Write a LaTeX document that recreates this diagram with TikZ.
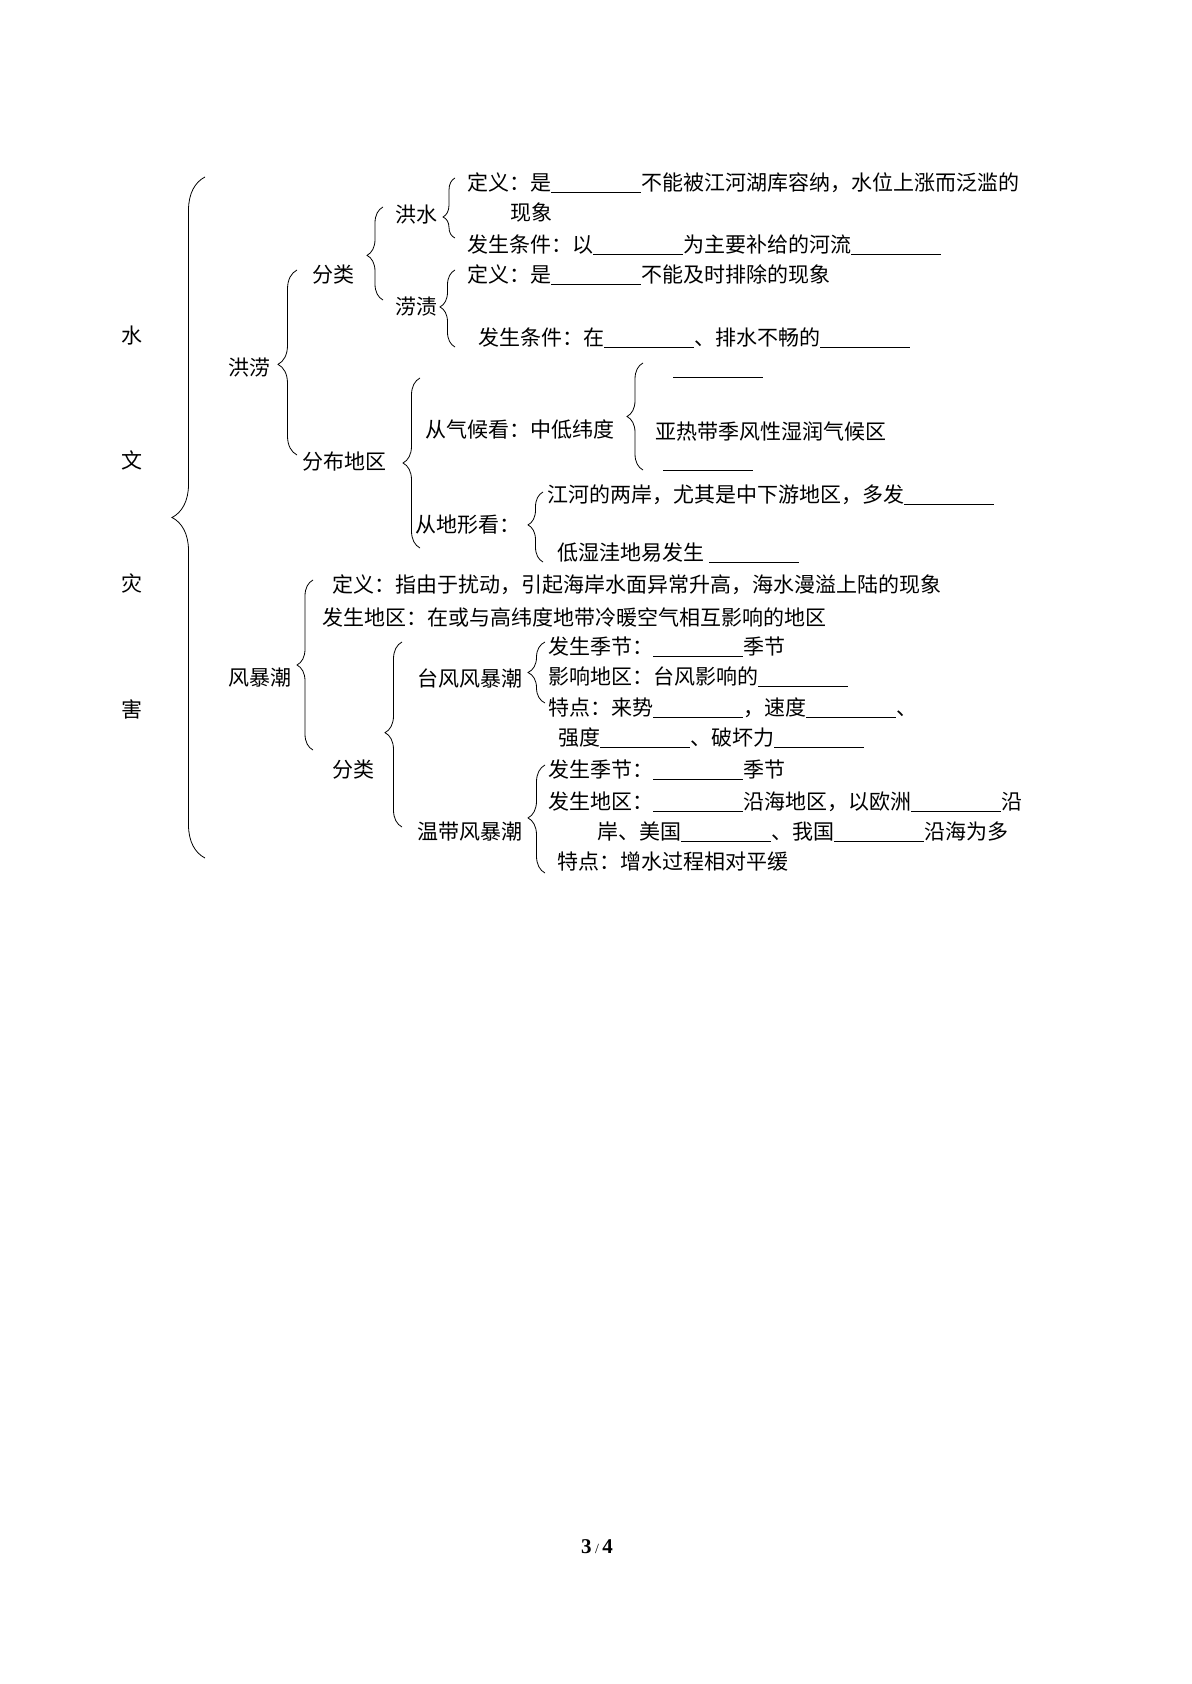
\documentclass[tikz,border=0pt]{standalone}
\usepackage{fontspec}
\setmainfont{Liberation Serif}
\newfontfamily\cjk{Noto Sans CJK SC}
\usepackage{tikz}
\usetikzlibrary{decorations.pathreplacing}
\newcommand{\blank}{\rule[-1pt]{45pt}{0.5pt}}

\begin{document}
\begin{tikzpicture}[x=0.5pt,y=-0.5pt,
    txt/.style={anchor=west,inner sep=0pt,font=\cjk\fontsize{10.5}{12}\selectfont},
    lbr/.style 2 args={thin,decorate,decoration={brace,amplitude=#1,aspect=#2}}]
    \useasboundingbox[fill=white] (0,0) rectangle (1191,1684);

    % left title
    \node[txt,anchor=center] (s1) at (132,336) {水};
    \node[txt,anchor=center] (s2) at (132,460) {文};
    \node[txt,anchor=center] (s3) at (132,583) {灾};
    \node[txt,anchor=center] (s4) at (132,709) {害};
    \draw[lbr={16.5pt}{0.5}] (205,858) -- (205,177);

    % flood
    \node[txt] (hl) at (228,368) {洪涝};
    \draw[lbr={9.5pt}{0.49}] (297,455) -- (297,270);
    \node[txt] (fl1) at (312,275) {分类};
    \draw[lbr={8pt}{0.48}] (383,300) -- (383,207);
    \node[txt] (hs) at (395,215) {洪水};
    \draw[lbr={6pt}{0.35}] (455,238) -- (455,178);
    \node[txt] (hs1) at (467,183) {定义：是\blank 不能被江河湖库容纳，水位上涨而泛滥的};
    \node[txt] (hs2) at (510,213) {现象};
    \node[txt] (hs3) at (467,245) {发生条件：以\blank 为主要补给的河流\blank};
    \node[txt] (lz) at (395,307) {涝渍};
    \draw[lbr={7.5pt}{0.52}] (455,347) -- (455,270);
    \node[txt] (lz1) at (467,275) {定义：是\blank 不能及时排除的现象};
    \node[txt] (lz2) at (478,338) {发生条件：在\blank 、排水不畅的\blank};

    % distribution
    \node[txt] (fb) at (302,462) {分布地区};
    \draw[lbr={8.5pt}{0.5}] (420,548) -- (420,378);
    \node[txt] (qh) at (425,430) {从气候看：中低纬度};
    \draw[lbr={8pt}{0.5}] (643,470) -- (643,363);
    \node[txt] (qh1) at (673,377) {\blank};
    \node[txt] (qh2) at (655,432) {亚热带季风性湿润气候区};
    \node[txt] (qh3) at (663,470) {\blank};
    \node[txt] (dx) at (415,525) {从地形看：};
    \draw[lbr={7.5pt}{0.53}] (543,562) -- (543,492);
    \node[txt] (dx1) at (547,495) {江河的两岸，尤其是中下游地区，多发\blank};
    \node[txt] (dx2) at (557,553) {低湿洼地易发生 \blank};

    % storm surge
    \node[txt] (fbc) at (228,678) {风暴潮};
    \draw[lbr={8pt}{0.5}] (313,750) -- (313,580);
    \node[txt] (fc1) at (332,585) {定义：指由于扰动，引起海岸水面异常升高，海水漫溢上陆的现象};
    \node[txt] (fc2) at (322,617) {发生地区：在或与高纬度地带冷暖空气相互影响的地区};
    \node[txt] (fl2) at (332,770) {分类};
    \draw[lbr={8.5pt}{0.51}] (402,827) -- (402,642);
    \node[txt] (tf) at (417,678) {台风风暴潮};
    \draw[lbr={8.5pt}{0.5}] (545,703) -- (545,642);
    \node[txt] (tf1) at (548,647) {发生季节：\blank 季节};
    \node[txt] (tf2) at (548,677) {影响地区：台风影响的\blank};
    \node[txt] (tf3) at (548,708) {特点：来势\blank ，速度\blank 、};
    \node[txt] (tf4) at (558,738) {强度\blank 、破坏力\blank};
    \node[txt] (wd) at (417,832) {温带风暴潮};
    \draw[lbr={8.5pt}{0.51}] (545,873) -- (545,765);
    \node[txt] (wd1) at (548,770) {发生季节：\blank 季节};
    \node[txt] (wd2) at (548,802) {发生地区：\blank 沿海地区，以欧洲\blank 沿};
    \node[txt] (wd3) at (597,832) {岸、美国\blank 、我国\blank 沿海为多};
    \node[txt] (wd4) at (557,862) {特点：增水过程相对平缓};

    % page number
    \node[inner sep=0pt,font=\fontsize{10.5}{12}\selectfont] (pg) at (597,1547) {\textbf{3}\,{\scriptsize /}\,\textbf{4}};
\end{tikzpicture}
\end{document}
